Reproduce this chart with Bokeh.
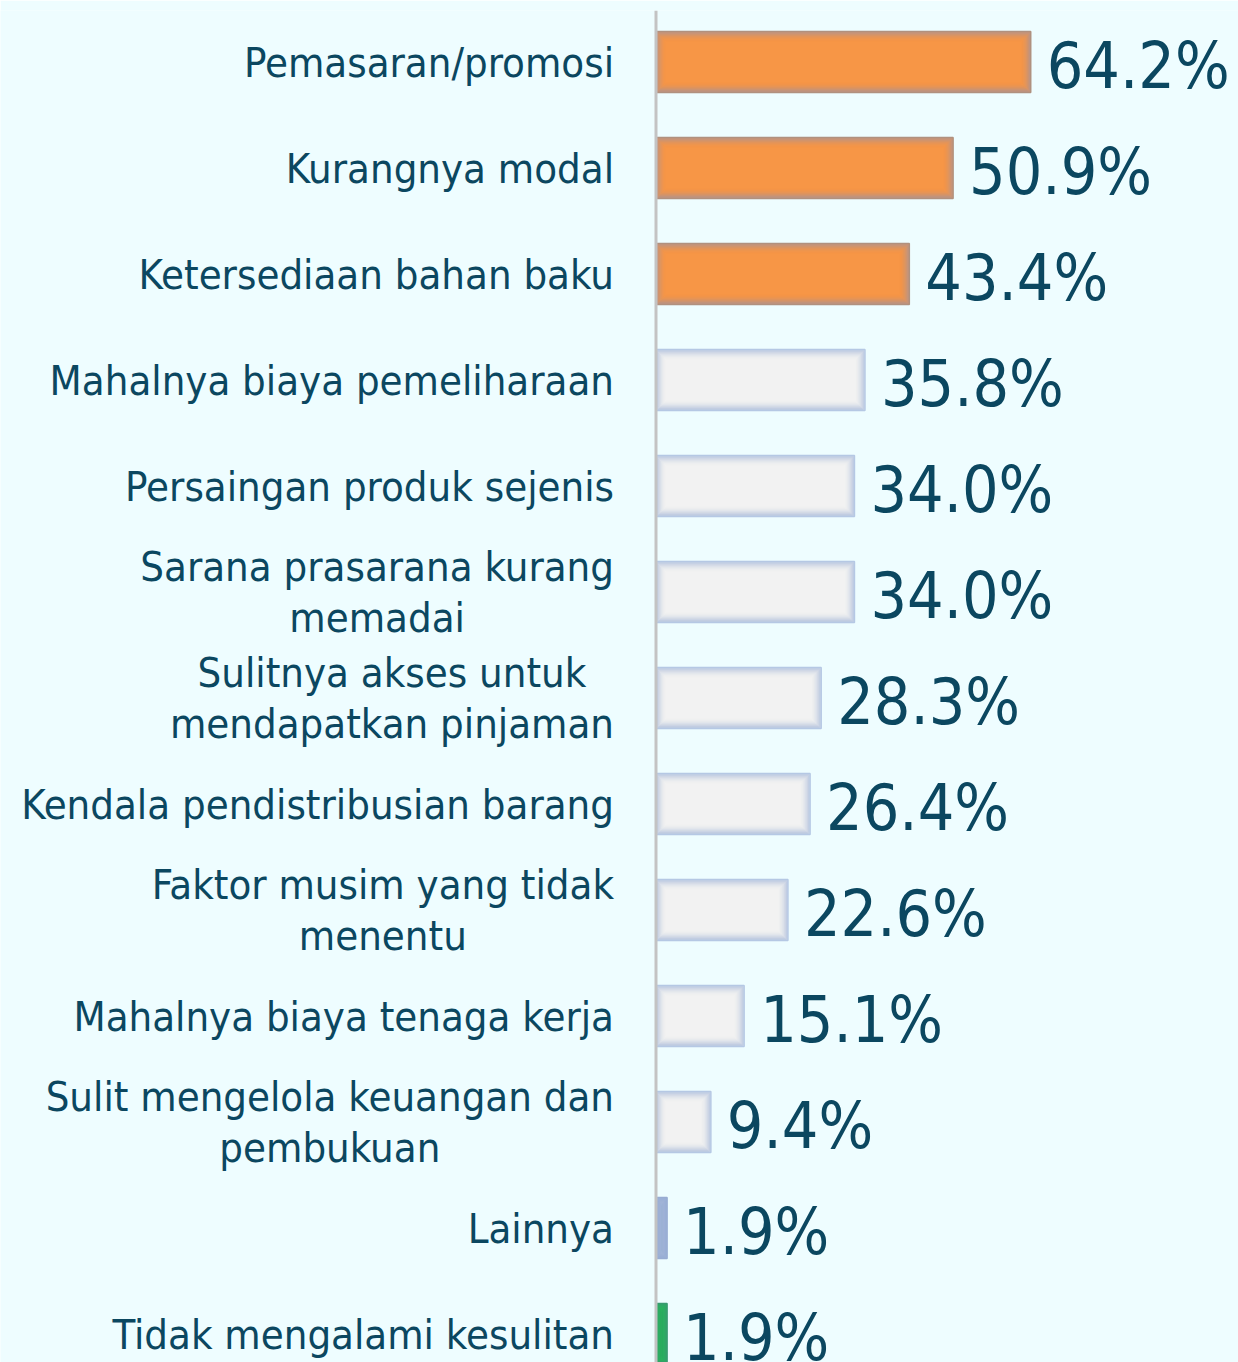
from bokeh.plotting import figure
from bokeh.models import ColumnDataSource, Range1d, Span
from bokeh.core.properties import value
from bokeh.embed import file_html
from bokeh.resources import INLINE

categories = [
    "Pemasaran/promosi",
    "Kurangnya modal",
    "Ketersediaan bahan baku",
    "Mahalnya biaya pemeliharaan",
    "Persaingan produk sejenis",
    "Sarana prasarana kurang\nmemadai",
    "Sulitnya akses untuk\nmendapatkan pinjaman",
    "Kendala pendistribusian barang",
    "Faktor musim yang tidak\nmenentu",
    "Mahalnya biaya tenaga kerja",
    "Sulit mengelola keuangan dan\npembukuan",
    "Lainnya",
    "Tidak mengalami kesulitan",
]
values = [64.2, 50.9, 43.4, 35.8, 34.0, 34.0, 28.3, 26.4, 22.6, 15.1, 9.4, 1.9, 1.9]
value_labels = ["64.2%", "50.9%", "43.4%", "35.8%", "34.0%", "34.0%", "28.3%",
                "26.4%", "22.6%", "15.1%", "9.4%", "1.9%", "1.9%"]
groups = ["top"] * 3 + ["other"] * 8 + ["lain", "none"]

fill_map = {"top": "#f79646", "other": "#f2f2f2", "lain": "#a6b8da", "none": "#27bb58"}
line_map = {"top": "#b0917f", "other": "#b5c8e4", "lain": "#98acd2", "none": "#3a9a70"}
glow_map = {"top": "#8c93b8", "other": "#8ea6d2", "lain": "#8ea6d2", "none": "#3d8f7a"}

BG = "#eefdff"
TXT = "#0b4760"
FONT = value("DejaVu Sans Condensed, DejaVu Sans")

n = len(categories)
ypos = [-i for i in range(n)]
BAR_H = 0.575

W, H = 1238, 1362
top_border = 10
px_x = 5.837
px_y = 106.0
axis_px = 655.5
frame_h = H - top_border
x0 = -axis_px / px_x
y1 = 51.5 / px_y

src = ColumnDataSource(dict(
    y=ypos, v=values, cat=categories, lab=value_labels, zero=[0] * n,
    fill=[fill_map[g] for g in groups], line=[line_map[g] for g in groups],
))

p = figure(width=W, height=H, output_backend="svg", toolbar_location=None,
           x_range=Range1d(x0, x0 + W / px_x),
           y_range=Range1d(y1 - frame_h / px_y, y1),
           min_border_left=0, min_border_right=0, min_border_top=top_border,
           min_border_bottom=0)
p.background_fill_color = BG
p.border_fill_color = BG
p.outline_line_color = None
p.axis.visible = False
p.grid.visible = False

# bars
p.hbar(y="y", left=0, right="v", height=BAR_H, source=src,
       fill_color="fill", line_color=None)

# soft inner glow: nested outlines inset from each bar's edge
alphas = [0.45, 0.36, 0.28, 0.21, 0.15, 0.1, 0.06, 0.035, 0.015]
step = 1.0
for k, a in enumerate(alphas):
    dx = (k * step + 1.0) / px_x
    dy = (k * step + 1.0) / px_y
    lefts = [min(dx, v / 2) for v in values]
    rights = [max(v - dx, v / 2) for v in values]
    p.hbar(y=ypos, left=lefts, right=rights, height=BAR_H - 2 * dy,
           fill_color=None, line_color=[glow_map[g] for g in groups],
           line_alpha=a, line_width=step + 0.3)

p.hbar(y="y", left=0, right="v", height=BAR_H, source=src,
       fill_color=None, line_color="line", line_width=1.5)

p.add_layout(Span(location=0, dimension="height", line_color="#c3c3c3", line_width=3))

p.text(x="zero", y="y", text="cat", source=src, x_offset=-42, y_offset=0,
       anchor="center_right", text_align="center", text_baseline="middle",
       text_font=FONT, text_font_size="41.5px", text_color=TXT, text_line_height=1.04)

p.text(x="v", y="y", text="lab", source=src, x_offset=16, y_offset=4,
       text_align="left", text_baseline="middle",
       text_font=FONT, text_font_size="64px", text_color=TXT)

open("out.html", "w").write(file_html(p, INLINE))
